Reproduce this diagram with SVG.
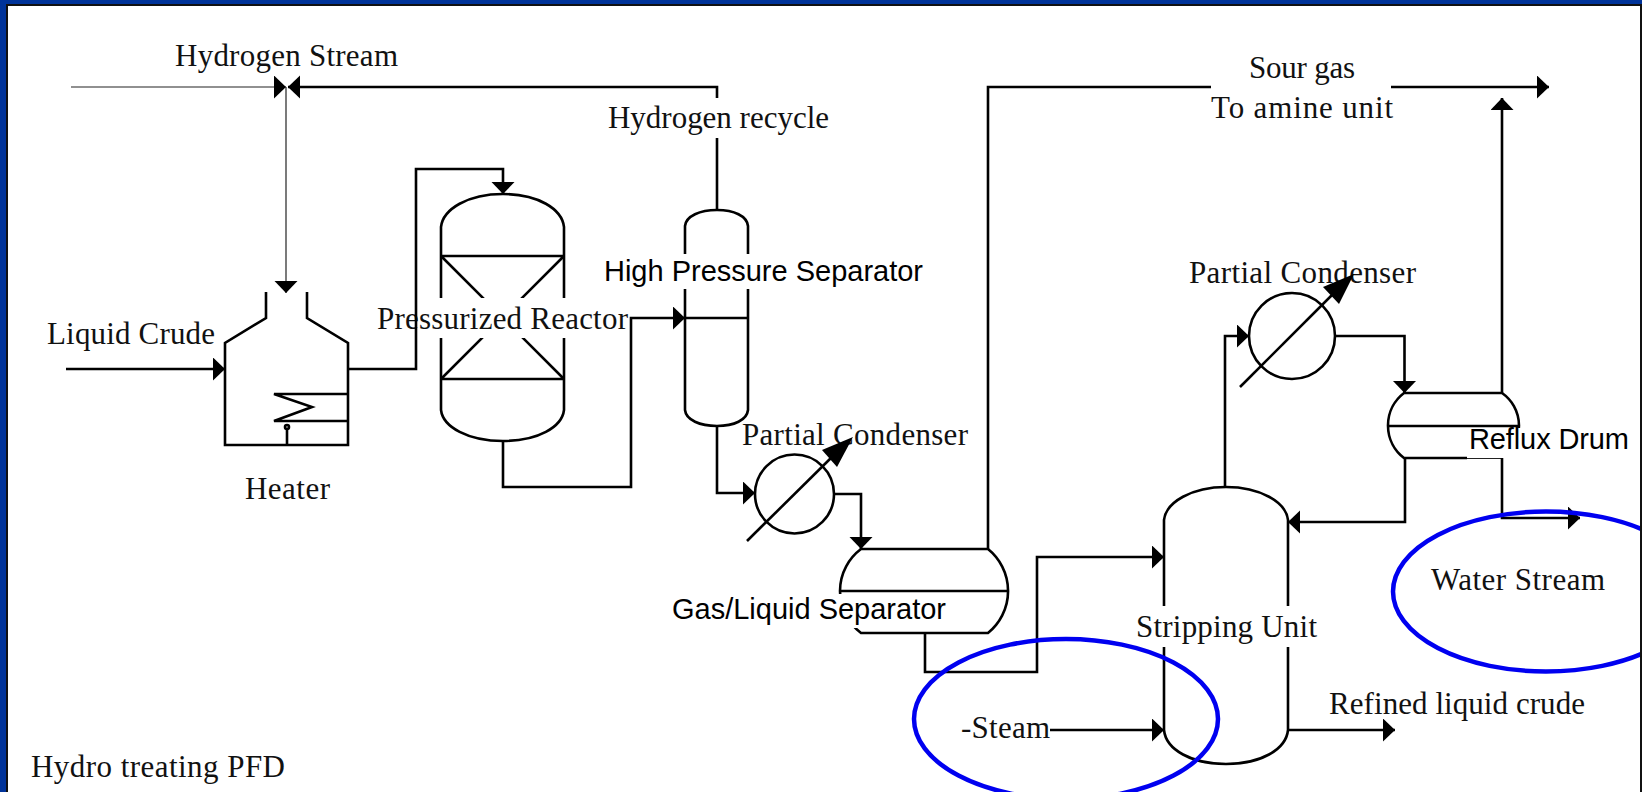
<svg xmlns="http://www.w3.org/2000/svg" width="1642" height="792" viewBox="0 0 1642 792">
<style>
.l{fill:none;stroke:#000;stroke-width:2.6}
.t{fill:none;stroke:#222;stroke-width:1.2}
.mask{fill:#fff;stroke:none}
.s{font-family:"Liberation Serif","Times New Roman",serif;font-size:31px;fill:#111}
.a{font-family:"Liberation Sans",Arial,sans-serif;font-size:29px;fill:#000}
.e{fill:none;stroke:#0000f0;stroke-width:4.5}
</style>
<defs>
<marker id="arrow" markerUnits="userSpaceOnUse" markerWidth="13" markerHeight="24" refX="12" refY="11.5" orient="auto"><path d="M0 0L12 11.5L0 23Z" fill="#000"/></marker>
</defs>
<rect width="1642" height="792" fill="#fff"/>
<g id="heater">
<path class="l" d="M266 292V318L225 343V445H348V343L307 318V292"/>
<path class="l" d="M348 394H274L312 407L274 421H348"/>
<path class="l" d="M287 445V429"/>
<circle class="l" cx="287" cy="427" r="2"/>
<text class="s" x="245" y="499" textLength="85">Heater</text>
</g>
<g id="reactor">
<path class="l" d="M441 227C443 209 468 194 503 194C538 194 562 209 564 227V410C562 427 538 441 503 441C468 441 443 427 441 410Z"/>
<path class="l" d="M441 256H564M441 379H564M441 256L564 379M564 256L441 379"/>
<rect class="mask" x="376" y="298" width="252" height="40"/>
<text class="s" x="377" y="329" textLength="251">Pressurized Reactor</text>
</g>
<g id="high-pressure-separator">
<path class="l" d="M685 226C686 216 700 210 717 210C734 210 747 216 748 226V410C747 420 734 426 717 426C700 426 686 420 685 410Z"/>
<path class="l" d="M685 318H748"/>
<rect class="mask" x="604" y="254" width="320" height="35"/>
<text class="a" x="604" y="281" textLength="319">High Pressure Separator</text>
</g>
<g id="partial-condenser-1">
<text class="s" x="742" y="445" textLength="226">Partial Condenser</text>
<circle class="l" cx="794.5" cy="494" r="39.5"/>
<path class="l" d="M747 541L835 454"/>
<path d="M853 437L822 450L837 467Z" fill="#000"/>
</g>
<g id="gas-liquid-separator">
<path class="l" d="M861 549H988A54 54 0 0 1 988 633H861A52.500 52.500 0 0 1 861 549Z"/>
<path class="l" d="M840 591H1008"/>
<rect class="mask" x="672" y="594" width="275" height="34"/>
<text class="a" x="672" y="619" textLength="274">Gas/Liquid Separator</text>
</g>
<g id="stripping-unit">
<path class="l" d="M1164 520C1166 502 1192 487 1226 487C1260 487 1286 502 1288 520V730C1286 750 1260 764 1226 764C1192 764 1166 750 1164 730Z"/>
<rect class="mask" x="1136" y="606" width="181" height="41"/>
<text class="s" x="1136" y="637" textLength="181">Stripping Unit</text>
</g>
<g id="partial-condenser-2">
<text class="s" x="1189" y="283" textLength="227">Partial Condenser</text>
<circle class="l" cx="1292" cy="336" r="43"/>
<path class="l" d="M1240 387L1335 292"/>
<path d="M1354 274L1323 287L1339 304Z" fill="#000"/>
</g>
<g id="reflux-drum">
<path class="l" d="M1404 393H1502A39.600 39.600 0 0 1 1502 458H1404A41 41 0 0 1 1404 393Z"/>
<path class="l" d="M1388 426H1519"/>
<rect class="mask" x="1467" y="428" width="164" height="32"/>
<path class="t" d="M1467 458.500H1502"/>
<text class="a" x="1469" y="449" textLength="160">Reflux Drum</text>
</g>
<g id="labels">
<text class="s" x="175" y="66" textLength="223">Hydrogen Stream</text>
<text class="s" x="47" y="344" textLength="168">Liquid Crude</text>
<text class="s" x="608" y="128" textLength="221">Hydrogen recycle</text>
<text class="s" x="1249" y="78" textLength="106">Sour gas</text>
<text class="s" x="1211" y="118" textLength="182">To amine unit</text>
<text class="s" x="1431" y="590" textLength="174">Water Stream</text>
<text class="s" x="961" y="738" textLength="89">-Steam</text>
<text class="s" x="1329" y="714" textLength="256">Refined liquid crude</text>
<text class="s" x="31" y="777" textLength="254">Hydro treating PFD</text>
</g>
<g id="connectors">
<path class="t" d="M71 87H286" marker-end="url(#arrow)"/>
<path class="t" d="M286 87V293" marker-end="url(#arrow)"/>
<path class="l" d="M717 210V138M717 98V87H288" marker-end="url(#arrow)"/>
<path class="l" d="M66 369H225" marker-end="url(#arrow)"/>
<path class="l" d="M348 369H416V169H503V194" marker-end="url(#arrow)"/>
<path class="l" d="M503 441V487H631V318H685" marker-end="url(#arrow)"/>
<path class="l" d="M717 426V493H755" marker-end="url(#arrow)"/>
<path class="l" d="M834 494H861V549" marker-end="url(#arrow)"/>
<path class="l" d="M988 549V87H1211"/>
<path class="l" d="M1391 87H1549" marker-end="url(#arrow)"/>
<path class="l" d="M925 633V672H1037V557H1164" marker-end="url(#arrow)"/>
<path class="l" d="M1050 730H1164" marker-end="url(#arrow)"/>
<path class="l" d="M1288 730H1395" marker-end="url(#arrow)"/>
<path class="l" d="M1225 487V336H1249" marker-end="url(#arrow)"/>
<path class="l" d="M1335 336H1404.500V393" marker-end="url(#arrow)"/>
<path class="l" d="M1502 393V98" marker-end="url(#arrow)"/>
<path class="l" d="M1502 458V518H1580" marker-end="url(#arrow)"/>
<path class="l" d="M1405 458V522H1288" marker-end="url(#arrow)"/>
</g>
<g id="highlights">
<ellipse class="e" cx="1066" cy="719" rx="152" ry="80"/>
<ellipse class="e" cx="1546" cy="591.500" rx="153" ry="80"/>
</g>
<g id="frame">
<rect x="0" y="0" width="1642" height="4" fill="#003399"/>
<rect x="0" y="0" width="6" height="792" fill="#003399"/>
<rect x="6" y="4" width="1636" height="2" fill="#111"/>
<rect x="6" y="4" width="2" height="788" fill="#111"/>
<rect x="1640" y="4" width="2" height="788" fill="#111"/>
</g>
</svg>
